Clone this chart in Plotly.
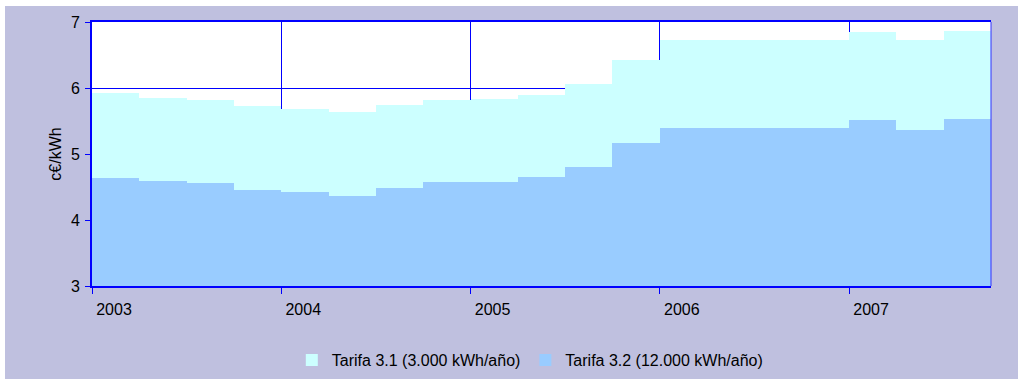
import plotly.graph_objects as go

# Quarterly electricity prices (c€/kWh), 2003 Q1 – 2007 Q3
years = [2003] * 4 + [2004] * 4 + [2005] * 4 + [2006] * 4 + [2007] * 3
quarters = [1, 2, 3, 4] * 4 + [1, 2, 3]
tarifa_31 = [5.93, 5.855, 5.825, 5.72, 5.68, 5.63, 5.75, 5.825, 5.84, 5.90,
             6.065, 6.43, 6.72, 6.72, 6.72, 6.72, 6.855, 6.72, 6.87]
tarifa_32 = [4.64, 4.585, 4.555, 4.45, 4.42, 4.37, 4.48, 4.57, 4.58, 4.645,
             4.81, 5.17, 5.40, 5.40, 5.40, 5.40, 5.52, 5.37, 5.535]
tick_years = [2003, 2004, 2005, 2006, 2007]
names = ["Tarifa 3.1 (3.000 kWh/año)", "Tarifa 3.2 (12.000 kWh/año)"]

# each quarter occupies a quarter of a year on the numeric time axis
x_mid = [y + (q - 1) / 4 + 0.125 for y, q in zip(years, quarters)]

BLUE = "#0000FF"
BG = "#BFC0DF"
FONT = "Liberation Sans, Arial, sans-serif"

fig = go.Figure()
fig.add_trace(go.Bar(x=x_mid, y=tarifa_31, width=0.25, name=names[0],
                     marker=dict(color="#CCFFFF", line=dict(width=0))))
fig.add_trace(go.Bar(x=x_mid, y=tarifa_32, width=0.25, name=names[1],
                     marker=dict(color="#99CCFF", line=dict(width=0))))

fig.update_layout(
    width=1018, height=379,
    margin=dict(l=92, r=27, t=22, b=93),
    paper_bgcolor=BG, plot_bgcolor="white",
    barmode="overlay", bargap=0,
    font=dict(family=FONT, size=16, color="black"),
    showlegend=True,
    legend=dict(orientation="h", x=0.487, xanchor="center",
                yref="container", y=0.05, yanchor="middle",
                bgcolor="rgba(0,0,0,0)", font=dict(size=16),
                traceorder="normal"),
    xaxis=dict(range=[2003, 2007.75], tickvals=tick_years,
               ticktext=[str(v) for v in tick_years],
               ticks="outside", ticklen=6, tickcolor=BLUE, tickwidth=1,
               ticklabelshift=22, ticklabelstandoff=2,
               showgrid=True, gridcolor=BLUE, gridwidth=1,
               showline=True, linecolor=BLUE, linewidth=2, mirror=True,
               zeroline=False, automargin=False),
    yaxis=dict(range=[3, 7], dtick=1, tick0=3,
               ticks="outside", ticklen=5, tickcolor=BLUE, tickwidth=1,
               ticklabelstandoff=2,
               showgrid=True, gridcolor=BLUE, gridwidth=1,
               showline=True, linecolor=BLUE, linewidth=2,
               zeroline=False, automargin=False,
               title=dict(text="c€/kWh", font=dict(size=16), standoff=5)),
    shapes=[
        # thin right border of the plot area
        dict(type="line", xref="paper", yref="paper", x0=1, x1=1, y0=0, y1=1,
             line=dict(color="#3333FF", width=1), layer="above"),
        # white strips along the top and left edges of the canvas
        dict(type="rect", xref="paper", x0=-1, x1=2, yref="paper",
             ysizemode="pixel", yanchor=1, y0=16, y1=23,
             fillcolor="white", line=dict(width=0), layer="below"),
        dict(type="rect", yref="paper", y0=-1, y1=2, xref="paper",
             xsizemode="pixel", xanchor=0, x0=-93, x1=-87,
             fillcolor="white", line=dict(width=0), layer="below"),
    ],
)

fig.write_html("out.html")
